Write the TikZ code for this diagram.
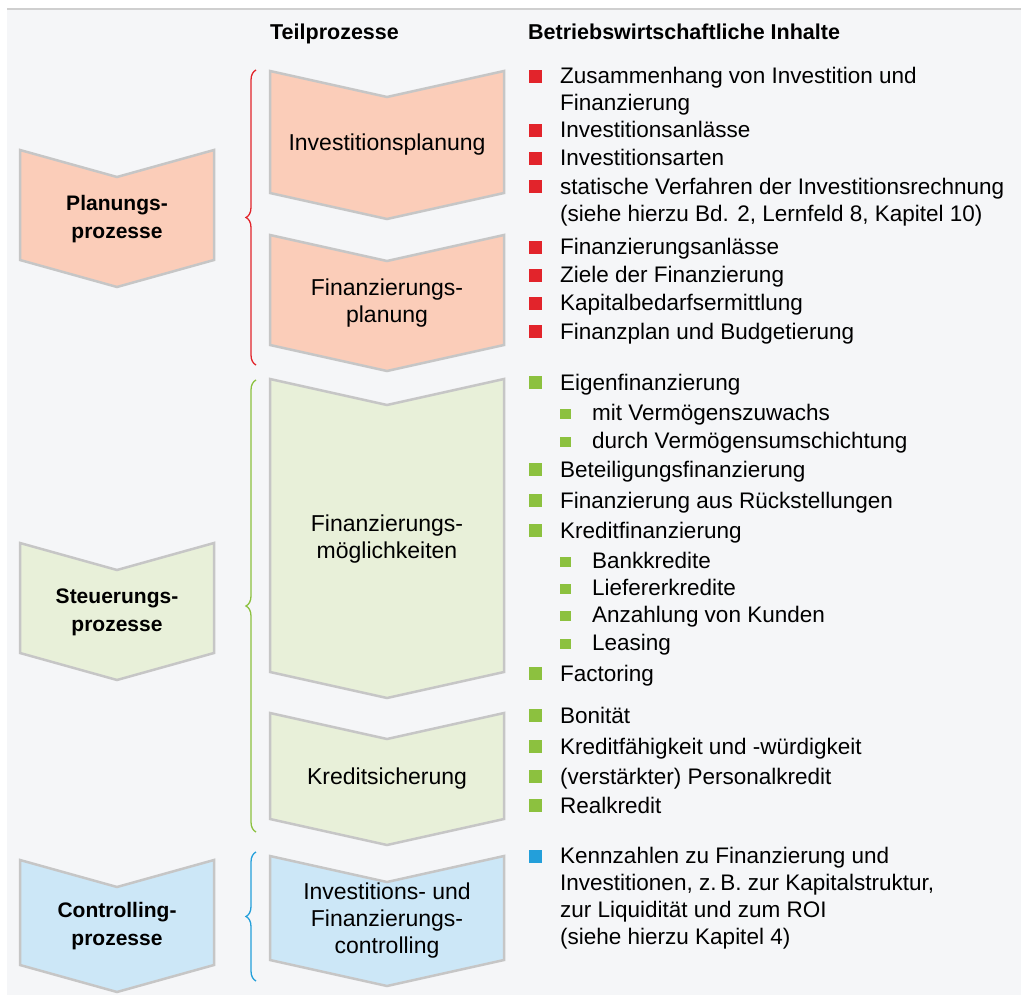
\documentclass[tikz,border=0pt]{standalone}
\usepackage{fontspec}
\setmainfont{Liberation Sans}
\usetikzlibrary{decorations.pathreplacing}

\definecolor{paper}{HTML}{F5F6F8}
\definecolor{rule}{HTML}{CFCFCF}
\definecolor{chevgray}{HTML}{C6C6C6}
\definecolor{planfill}{HTML}{FBCDB9}
\definecolor{steuerfill}{HTML}{E8F0D9}
\definecolor{contrfill}{HTML}{CCE7F7}
\definecolor{planred}{HTML}{E2242B}
\definecolor{steuergreen}{HTML}{8CC13F}
\definecolor{contrblue}{HTML}{239FDA}

\tikzset{
  chev/.style={draw=chevgray, line width=2.5pt, line join=miter},
  head/.style={font=\fontsize{21.5}{26}\selectfont\bfseries, inner sep=0pt, anchor=base west},
  proc/.style={font=\fontsize{21}{28}\selectfont\bfseries, inner sep=0pt, align=center},
  teil/.style={font=\fontsize{23}{27}\selectfont, inner sep=0pt, align=center},
  item/.style={font=\fontsize{22.5}{27.5}\selectfont, inner sep=0pt, align=left, anchor=base west},
  curly/.style={decorate, decoration={brace, amplitude=10pt}, line width=1.3pt},
}

\begin{document}
\begin{tikzpicture}[x=1pt, y=-1pt]
\def\xmin{7} \def\xmax{1021}
\def\ymin{9} \def\ymax{995}
\useasboundingbox (0,0) rectangle (\xmax,\ymax);

% background and top rule
\fill[paper] (\xmin,\ymin) rectangle (\xmax,\ymax);
\draw[rule, line width=2pt] (\xmin,\ymin) -- (\xmax,\ymin);

% chevrons, left column
\foreach \t/\b/\c in {150/260/planfill, 543/653/steuerfill, 860/965/contrfill}
  \draw[chev, fill=\c] (20,\t) -- (117,\t+27) -- (214,\t) -- (214,\b) -- (117,\b+27) -- (20,\b) -- cycle;

% chevrons, Teilprozesse
\foreach \t/\b/\c in {71/193/planfill, 235/345/planfill, 379/672/steuerfill, 713/819/steuerfill, 856/960/contrfill}
  \draw[chev, fill=\c] (270,\t) -- (387,\t+26) -- (504,\t) -- (504,\b) -- (387,\b+26) -- (270,\b) -- cycle;

% braces
\draw[curly, planred] (256,365) -- (256,70);
\draw[curly, steuergreen] (256,832) -- (256,380);
\draw[curly, contrblue] (256,981) -- (256,852);

% headings
\node[head] (hteil) at (270,40) {Teilprozesse};
\node[head] (hinhalt) at (528,40) {Betriebswirtschaftliche Inhalte};

% process labels
\node[proc] (plan) at (117,219) {Planungs-\\prozesse};
\node[proc] (steuer) at (117,612) {Steuerungs-\\prozesse};
\node[proc] (contr) at (117,926) {Controlling-\\prozesse};

\node[teil] (invplan) at (387,145) {Investitionsplanung};
\node[teil] (finplan) at (387,303) {Finanzierungs-\\planung};
\node[teil] (finmoegl) at (387,539) {Finanzierungs-\\möglichkeiten};
\node[teil] (kredsich) at (387,779) {Kreditsicherung};
\node[teil] (invfincontr) at (387,921) {Investitions- und\\Finanzierungs-\\controlling};

% bullets
\foreach \b in {84,138,166,194,255,283,311,339}
  \fill[planred] (529,\b-14) rectangle (542,\b-1);
\foreach \b in {390,477,508,538,681,723,754,784,813}
  \fill[steuergreen] (529,\b-14) rectangle (542,\b-1);
\foreach \b in {420,448,568,595,622,650}
  \fill[steuergreen] (560,\b-11) rectangle (571,\b-1);
\fill[contrblue] (529,864-14) rectangle (542,864-1);

% Inhalte: Planung (multi-line nodes sit on their last baseline)
\node[item] (zusammen) at (560,111) {Zusammenhang von Investition und\\Finanzierung};
\node[item] (invanlass) at (560,138) {Investitionsanlässe};
\node[item] (invarten) at (560,166) {Investitionsarten};
\node[item] (statisch) at (560,222) {statische Verfahren der Investitionsrechnung\\(siehe hierzu Bd. 2, Lernfeld 8, Kapitel 10)};
\node[item] (finanlass) at (560,255) {Finanzierungsanlässe};
\node[item] (ziele) at (560,283) {Ziele der Finanzierung};
\node[item] (kapbedarf) at (560,311) {Kapitalbedarfsermittlung};
\node[item] (finanzplan) at (560,339) {Finanzplan und Budgetierung};

% Inhalte: Steuerung
\node[item] (eigen) at (560,390) {Eigenfinanzierung};
\node[item] (zuwachs) at (592,420) {mit Vermögenszuwachs};
\node[item] (umschicht) at (592,448) {durch Vermögensumschichtung};
\node[item] (beteilig) at (560,477) {Beteiligungsfinanzierung};
\node[item] (rueckst) at (560,508) {Finanzierung aus Rückstellungen};
\node[item] (kredfin) at (560,538) {Kreditfinanzierung};
\node[item] (bank) at (592,568) {Bankkredite};
\node[item] (lieferer) at (592,595) {Liefererkredite};
\node[item] (anzahlung) at (592,622) {Anzahlung von Kunden};
\node[item] (leasing) at (592,650) {Leasing};
\node[item] (factoring) at (560,681) {Factoring};
\node[item] (bonitaet) at (560,723) {Bonität};
\node[item] (kredfaehig) at (560,754) {Kreditfähigkeit und -würdigkeit};
\node[item] (personal) at (560,784) {(verstärkter) Personalkredit};
\node[item] (real) at (560,813) {Realkredit};

% Inhalte: Controlling
\node[item, font=\fontsize{22.5}{26.7}\selectfont] (kennzahlen) at (560,944) {Kennzahlen zu Finanzierung und\\Investitionen, z.\,B. zur Kapitalstruktur,\\zur Liquidität und zum ROI\\(siehe hierzu Kapitel 4)};
\end{tikzpicture}
\end{document}
